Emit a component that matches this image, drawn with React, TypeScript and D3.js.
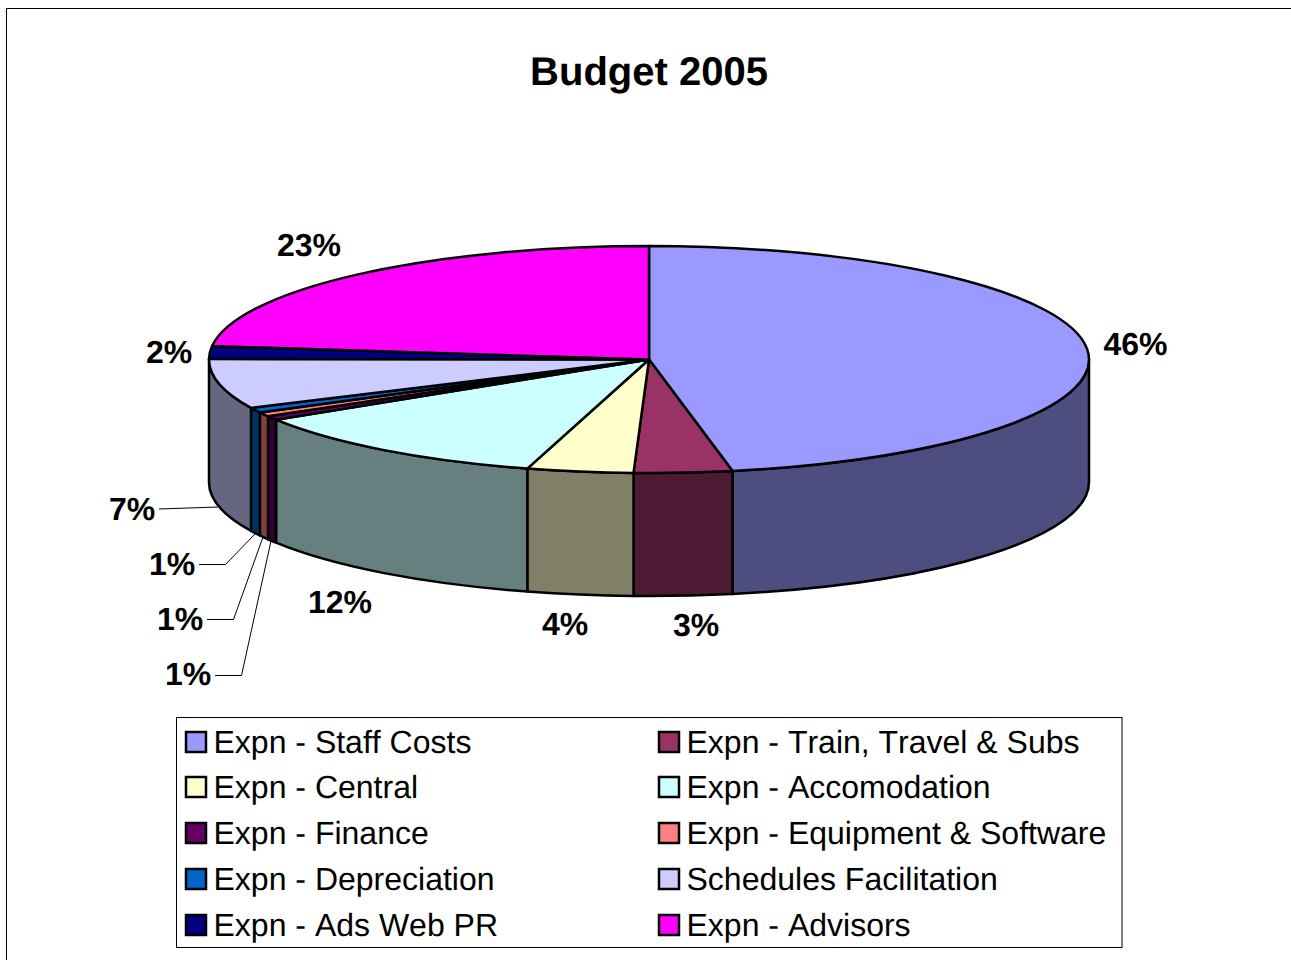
import React from "react";
import * as d3 from "d3";

const title = "Budget 2005";
const categories = [
  "Expn - Staff Costs", "Expn - Train, Travel & Subs", "Expn - Central", "Expn - Accomodation",
  "Expn - Finance", "Expn - Equipment & Software", "Expn - Depreciation", "Schedules Facilitation",
  "Expn - Ads Web PR", "Expn - Advisors",
];
const values = [46.96, 3.6, 3.9, 11.64, 0.56, 0.61, 0.72, 7.1, 1.8, 23.11];
const valueLabels = ["46%", "3%", "4%", "12%", "1%", "1%", "1%", "7%", "2%", "23%"];
const colors = ["#9999FF", "#993366", "#FFFFCC", "#CCFFFF", "#660066", "#FF8080", "#0066CC", "#CCCCFF", "#000080", "#FF00FF"];

// Layout (not data)
const W = 1291, H = 960;
const cx = 649, cy = 359.5, rx = 440, ry = 113.5, depth = 123;
const font = "'Liberation Sans', Arial, sans-serif";
const labelPos: [number, number][] = [
  [1135.5, 344], [696, 625], [565, 624], [340, 602], [188, 674], [180, 619], [172, 564], [132, 509], [169, 352], [309, 245],
];
const leaders: ([number, number][] | null)[] = [
  null, null, null, null,
  [[215, 675.5], [241.5, 675.5], [271, 541]],
  [[207, 619.5], [233.5, 619.5], [263, 537]],
  [[199, 564.5], [225.5, 564.5], [255, 534]],
  [[159, 509], [218, 507]],
  null, null,
];

const pieGen = d3.pie<number>().sort(null).startAngle(0).endAngle(2 * Math.PI);
const arcs = pieGen(values);
const arcGen = d3.arc<any>().innerRadius(0).outerRadius(rx);
const px = (t: number) => cx + rx * Math.sin(t);
const py = (t: number) => cy - ry * Math.cos(t);

function wallPath(a0: number, a1: number): string | null {
  const t0 = Math.max(a0, Math.PI / 2), t1 = Math.min(a1, 1.5 * Math.PI);
  if (t1 <= t0) return null;
  return `M${px(t0)},${py(t0)}A${rx},${ry} 0 0 1 ${px(t1)},${py(t1)}` +
    `L${px(t1)},${py(t1) + depth}A${rx},${ry} 0 0 0 ${px(t0)},${py(t0) + depth}Z`;
}
const darken = (c: string) => {
  const r = d3.rgb(c);
  return d3.rgb(r.r / 2, r.g / 2, r.b / 2).formatHex();
};
const lineGen = d3.line();

const legendRows = [742, 787, 833, 879, 925];
const legendCols = [186, 659];

export default function App() {
  return (
    <svg width={W} height={H} viewBox={`0 0 ${W} ${H}`} style={{ position: "absolute", left: 0, top: 0, background: "#fff", fontKerning: "none", textRendering: "geometricPrecision" }} fontFamily={font}>
      <rect x={6.5} y={8.5} width={W + 20} height={H + 20} fill="#fff" stroke="#000" strokeWidth={1} />
      <text x={649} y={85} textAnchor="middle" fontSize={40} fontWeight={700}>{title}</text>

      <g stroke="#000" strokeWidth={2.5} strokeLinejoin="round">
        {arcs.map((a, i) => {
          const d = wallPath(a.startAngle, a.endAngle);
          return d ? <path key={i} d={d} fill={darken(colors[i])} /> : null;
        })}
        <g transform={`translate(${cx},${cy}) scale(1,${ry / rx})`}>
          {arcs.map((a, i) => (
            <path key={i} d={arcGen(a) as string} fill={colors[i]} vectorEffect="non-scaling-stroke" />
          ))}
        </g>
      </g>

      <g fill="none" stroke="#000" strokeWidth={1}>
        {leaders.map((l, i) => (l ? <path key={i} d={lineGen(l) as string} /> : null))}
      </g>
      <g fontSize={32} fontWeight={700} textAnchor="middle">
        {valueLabels.map((t, i) => (
          <text key={i} x={labelPos[i][0]} y={labelPos[i][1] + 11}>{t}</text>
        ))}
      </g>

      <rect x={176.5} y={717.5} width={945.5} height={230} fill="#fff" stroke="#000" strokeWidth={1} />
      {categories.map((c, i) => {
        const x = legendCols[i % 2];
        const y = legendRows[Math.floor(i / 2)];
        return (
          <g key={c}>
            <rect x={x} y={y - 10} width={20} height={20} fill={colors[i]} stroke="#000" strokeWidth={2.5} />
            <text x={x + 27.5} y={y + 11} fontSize={32}>{c}</text>
          </g>
        );
      })}
    </svg>
  );
}
